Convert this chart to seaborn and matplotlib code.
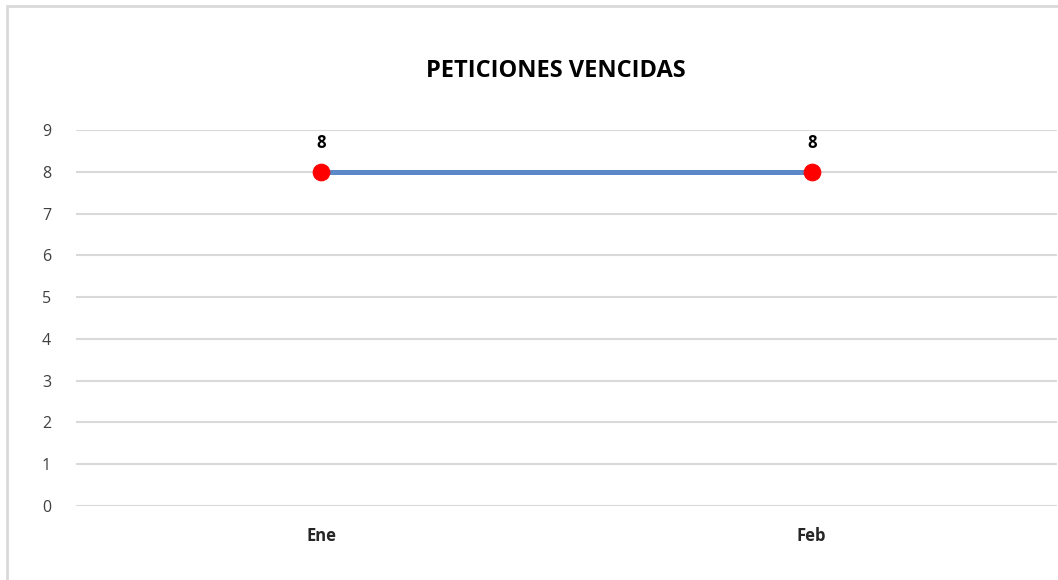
import matplotlib
matplotlib.use("Agg")
import matplotlib.pyplot as plt
import seaborn as sns
import pandas as pd
from matplotlib.patches import Rectangle

meses = ["Ene", "Feb"]
vencidas = [8, 8]
y_ticks = list(range(0, 10))

sns.set_style("white")
plt.rcParams['font.family'] = ['Open Sans', 'DejaVu Sans']

df = pd.DataFrame({"mes": meses, "vencidas": vencidas})

fig = plt.figure(figsize=(10.58, 5.8), dpi=100)
ax = fig.add_axes([76 / 1058, 74 / 580, 981 / 1058, 376 / 580])

sns.lineplot(data=df, x="mes", y="vencidas", ax=ax, color="#5B88C6",
             linewidth=3.6, marker="o", markersize=12,
             markerfacecolor="#FF0000", markeredgecolor="#FF0000", zorder=3)

for i, v in enumerate(vencidas):
    ax.annotate(str(v), (i, v), xytext=(0, 14), textcoords="offset points",
                ha="center", va="bottom", fontsize=12, fontweight="bold", color="black")

ax.set_xlim(-0.5, 1.5)
ax.set_ylim(0, 9)
ax.set_yticks(y_ticks)
ax.yaxis.grid(True, color="#D9D9D9", linewidth=1.5)
ax.set_axisbelow(True)
for s in ax.spines.values():
    s.set_visible(False)
ax.tick_params(axis="y", length=0, pad=18, labelsize=11.5, labelcolor="#404040")
ax.tick_params(axis="x", length=0, pad=15, labelsize=12)
for lbl in ax.get_xticklabels():
    lbl.set_fontweight("bold")
ax.set_xlabel("")
ax.set_ylabel("")

fig.text(556 / 1058, 1 - 71 / 580, "PETICIONES VENCIDAS", ha="center", va="center",
         fontsize=17, fontweight="bold", color="black")

fig.patches.append(Rectangle((7 / 1058, -0.1), 1.2, 1 - 6 / 580 + 0.1,
                             transform=fig.transFigure, fill=False,
                             edgecolor="#D9D9D9", linewidth=2))

fig.savefig("out.png", dpi=100, facecolor="white")
